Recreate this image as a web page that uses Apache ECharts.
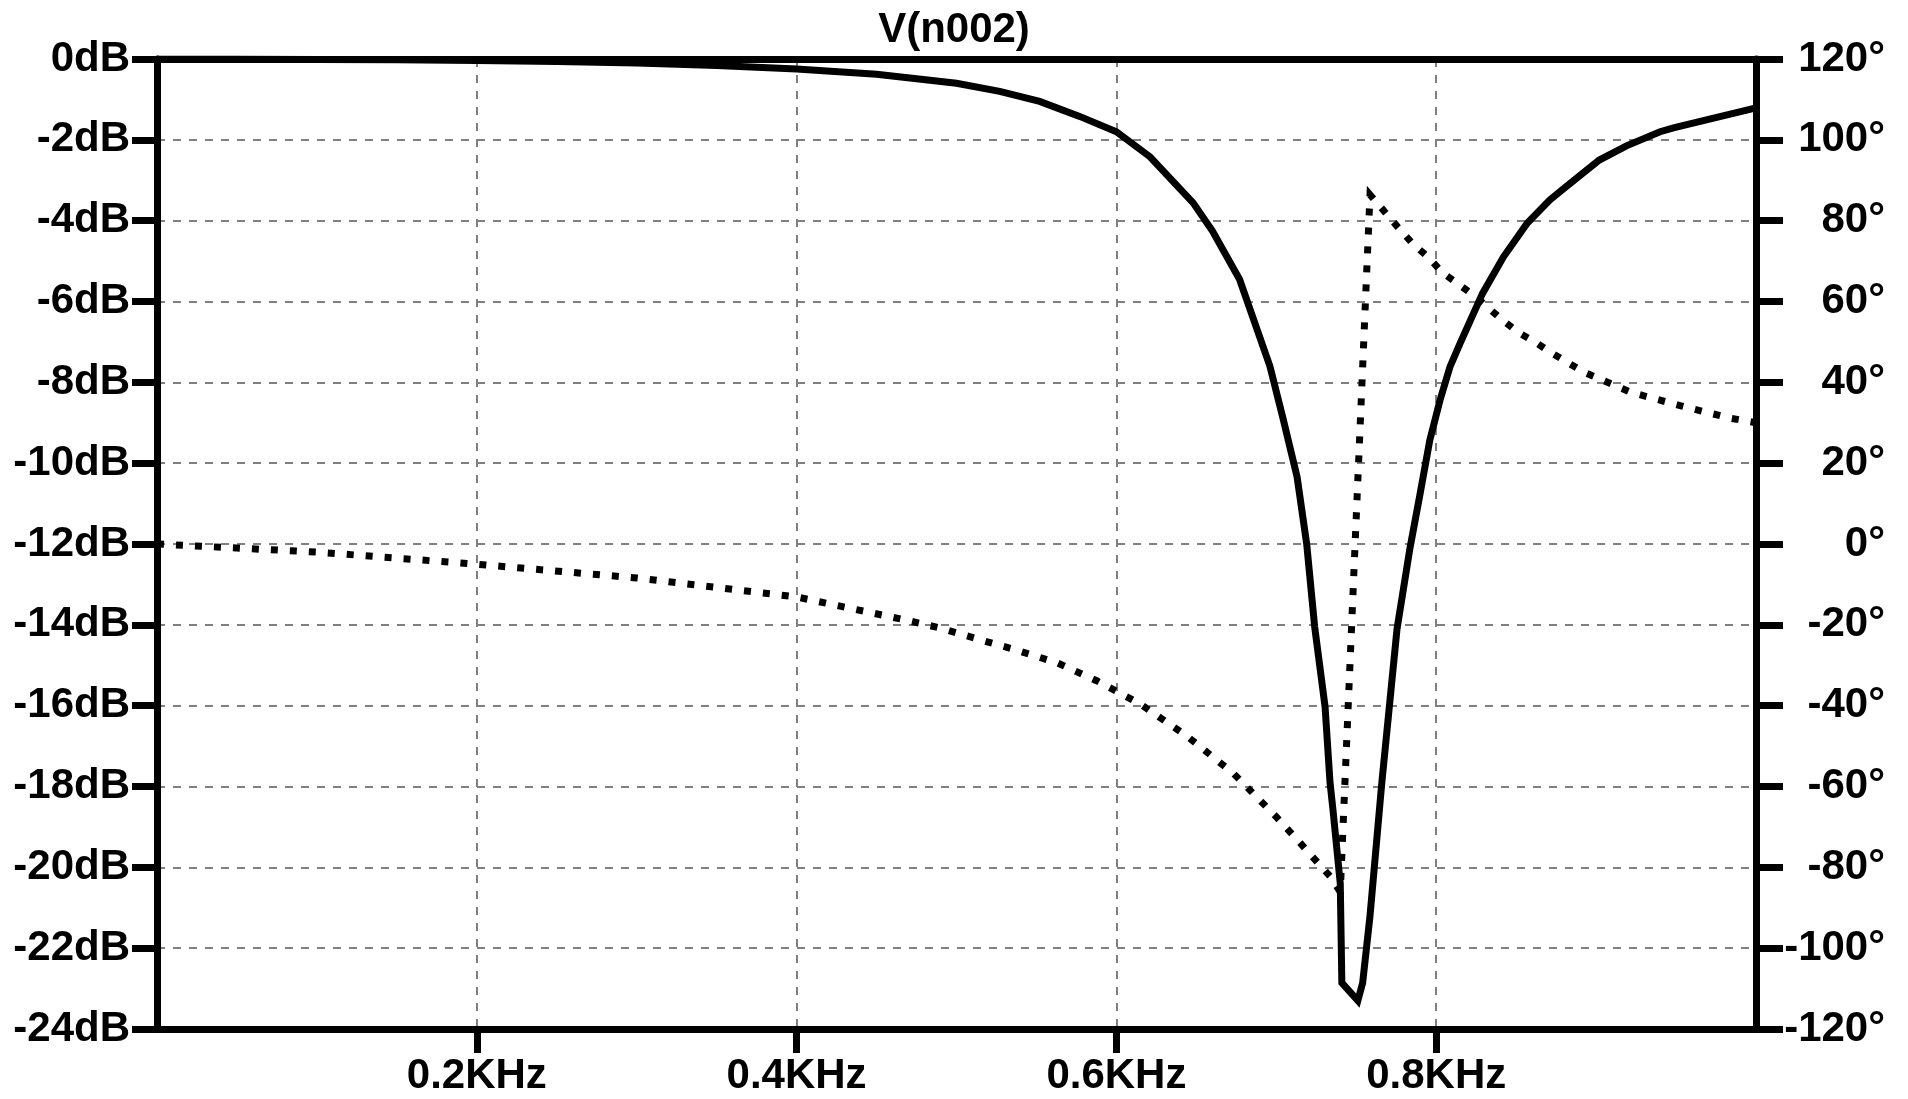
<!DOCTYPE html>
<html>
<head>
<meta charset="utf-8">
<script src="https://cdn.jsdelivr.net/npm/echarts@6/dist/echarts.min.js"></script>
<style>
html,body{margin:0;padding:0;background:#fff;}
#chart{width:1908px;height:1099px;}
</style>
</head>
<body>
<div id="chart"></div>
<script>
const chartTitle = 'V(n002)';
// Magnitude trace (solid): frequency in Hz, value in dB
const magFreq = [0, 50, 100, 150, 200, 250, 300, 350, 400, 450, 500, 527, 552, 577, 600, 621, 648, 660, 677, 696, 704, 713, 719, 724, 730.5, 733.6, 735.5, 740, 741, 751, 754, 758.6, 763.6, 766, 770, 775.5, 783.6, 790, 796, 802.4, 808.6, 815, 829, 842, 857, 871, 880, 902, 919, 940, 949, 1000];
const magDb = [0, 0, -0.01, -0.02, -0.04, -0.06, -0.1, -0.16, -0.25, -0.38, -0.6, -0.8, -1.05, -1.42, -1.8, -2.42, -3.56, -4.25, -5.45, -7.6, -8.86, -10.34, -12.0, -14.05, -16.03, -17.9, -18.6, -20.4, -22.86, -23.3, -22.86, -21.2, -18.97, -17.9, -16.3, -14.1, -12.1, -10.74, -9.43, -8.44, -7.62, -7.03, -5.8, -4.9, -4.06, -3.49, -3.2, -2.5, -2.15, -1.8, -1.7, -1.21];
// Phase trace (dotted): frequency in Hz, value in degrees
const phaseFreq = [0, 100, 200, 300, 400, 468, 490, 513, 537, 563, 588, 615, 644, 673, 700, 717, 734, 740, 758.6, 768, 776, 785.5, 795, 804, 814, 825.5, 842, 852, 863, 870, 892, 922, 953, 983, 1000];
const phaseDeg = [0, -2, -5, -8.4, -13.1, -18.8, -20.8, -23.5, -26.2, -29.4, -33.9, -39.6, -47.5, -56.7, -67.5, -74.9, -82.4, -86.1, 86.4, 82.1, 78.4, 74.2, 71.0, 67.1, 64.3, 60.9, 55.2, 52.2, 49.7, 47.8, 42.6, 37.5, 34.2, 31.2, 30.0];
// Axis ticks
const xTickValues = [200, 400, 600, 800];
const xRange = [0, 1000];
const dbRange = [-24, 0];
const dbStep = 2;
const phaseRange = [-120, 120];
const phaseStep = 20;

const FONT = "'Liberation Sans', Arial, sans-serif";
const FS = 42;
const AXW = 7;

const chart = echarts.init(document.getElementById('chart'), null, {renderer: 'canvas'});
const gridStyle = {show: true, lineStyle: {color: '#808080', width: 2, type: [8, 8]}};
const labelBase = {color: '#000', fontFamily: FONT, fontWeight: 'bold', fontSize: FS};

chart.setOption({
  animation: false,
  backgroundColor: '#fff',
  title: {
    text: chartTitle, left: 'center', top: 9, padding: 0,
    textStyle: {color: '#000', fontFamily: FONT, fontWeight: 'bold', fontSize: FS}
  },
  grid: {left: 157, right: 152, top: 59, bottom: 70, containLabel: false, outerBoundsMode: 'none'},
  xAxis: [{
    type: 'value', position: 'bottom', min: xRange[0], max: xRange[1], interval: 200,
    axisLine: {show: true, onZero: false, lineStyle: {color: '#000', width: AXW}},
    axisTick: {show: true, length: 24, customValues: xTickValues, lineStyle: {color: '#000', width: AXW}},
    axisLabel: Object.assign({}, labelBase, {margin: 26, customValues: xTickValues,
      formatter: v => (v / 1000).toFixed(1) + 'KHz'}),
    splitLine: gridStyle
  }, {
    type: 'value', position: 'top', min: xRange[0], max: xRange[1], interval: 200,
    axisLine: {show: true, onZero: false, lineStyle: {color: '#000', width: AXW}},
    axisTick: {show: false}, axisLabel: {show: false}, splitLine: {show: false}
  }],
  yAxis: [{
    type: 'value', position: 'left', min: dbRange[0], max: dbRange[1], interval: dbStep,
    axisLine: {show: true, onZero: false, lineStyle: {color: '#000', width: AXW}},
    axisTick: {show: true, length: 25, lineStyle: {color: '#000', width: AXW}},
    axisLabel: Object.assign({}, labelBase, {margin: 27, formatter: v => v + 'dB'}),
    splitLine: gridStyle
  }, {
    type: 'value', position: 'right', min: phaseRange[0], max: phaseRange[1], interval: phaseStep,
    axisLine: {show: true, onZero: false, lineStyle: {color: '#000', width: AXW}},
    axisTick: {show: true, length: 27, lineStyle: {color: '#000', width: AXW}},
    axisLabel: Object.assign({}, labelBase, {margin: 129, align: 'right', formatter: v => v + '°'}),
    splitLine: {show: false}
  }],
  series: [{
    name: 'mag', type: 'line', xAxisIndex: 0, yAxisIndex: 0,
    data: magFreq.map((f, i) => [f, magDb[i]]),
    showSymbol: false, symbol: 'none', smooth: false,
    lineStyle: {color: '#000', width: 7, join: 'miter', cap: 'butt'},
    z: 3
  }, {
    name: 'phase', type: 'line', xAxisIndex: 0, yAxisIndex: 1,
    data: phaseFreq.map((f, i) => [f, phaseDeg[i]]),
    showSymbol: false, symbol: 'none', smooth: false,
    lineStyle: {color: '#000', width: 7, type: [7, 12], cap: 'butt', join: 'miter'},
    z: 3
  }]
});
</script>
</body>
</html>
